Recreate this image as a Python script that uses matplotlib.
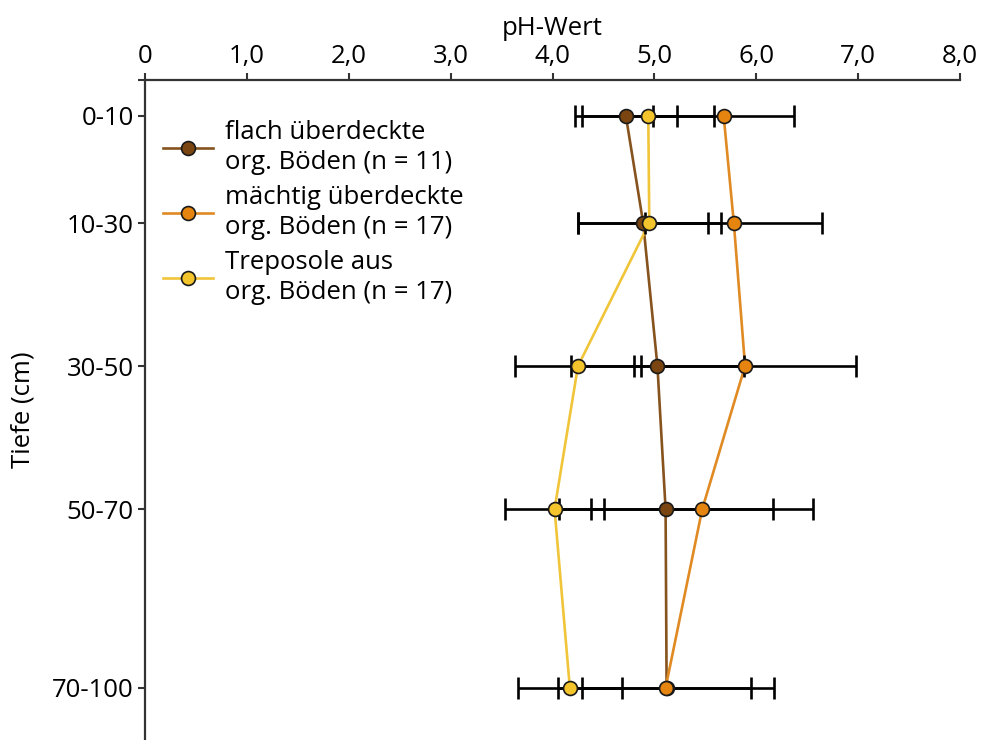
import matplotlib
matplotlib.use("Agg")
import matplotlib.pyplot as plt
from matplotlib.lines import Line2D

plt.rcParams['font.family'] = ['Open Sans', 'DejaVu Sans']

depth_labels = ["0-10", "10-30", "30-50", "50-70", "70-100"]
depth_mid = [5, 20, 40, 60, 85]

series_names = ["flach überdeckte\norg. Böden (n = 11)",
                "mächtig überdeckte\norg. Böden (n = 17)",
                "Treposole aus\norg. Böden (n = 17)"]
flach_mean = [4.72, 4.89, 5.03, 5.11, 5.12]
flach_err = [0.50, 0.64, 0.85, 1.05, 0.83]
maechtig_mean = [5.68, 5.78, 5.89, 5.47, 5.11]
maechtig_err = [0.69, 0.87, 1.09, 1.09, 1.06]
trepo_mean = [4.94, 4.95, 4.25, 4.02, 4.17]
trepo_err = [0.65, 0.70, 0.62, 0.49, 0.51]

x_ticks = [0, 1, 2, 3, 4, 5, 6, 7, 8]
x_ticklabels = ["0", "1,0", "2,0", "3,0", "4,0", "5,0", "6,0", "7,0", "8,0"]

colors_line = ["#86531E", "#E08A23", "#F0C53A"]
colors_marker = ["#7A4510", "#E5850F", "#F3C42C"]

FS = 18.5

fig = plt.figure(figsize=(9.84, 7.40), dpi=100)
ax = fig.add_axes([0.1474, 0.0, 0.8282, 0.8919])

means = [flach_mean, maechtig_mean, trepo_mean]
errs = [flach_err, maechtig_err, trepo_err]
zorders = [3, 4, 5]
for m, e, cl in zip(means, errs, colors_line):
    ax.plot(m, depth_mid, color=cl, lw=1.9, zorder=1)
    ax.errorbar(m, depth_mid, xerr=e, fmt='none', ecolor='black', elinewidth=1.9,
                capsize=8, capthick=1.9, zorder=2)
for m, cm, z in zip(means, colors_marker, zorders):
    ax.plot(m, depth_mid, ls='none', marker='o', ms=10, mfc=cm, mec='#1a1a1a',
            mew=1.2, zorder=z)

ax.set_xlim(0, 8)
ax.set_ylim(92.3, 0)
ax.xaxis.tick_top()
ax.xaxis.set_label_position('top')
ax.set_xticks(x_ticks)
ax.set_xticklabels(x_ticklabels)
ax.set_yticks([0] + depth_mid)
ax.set_yticklabels([""] + depth_labels)
ax.tick_params(axis='both', labelsize=FS, length=5, width=1.5, color='#333333',
               direction='out', pad=3)
for s in ['right', 'bottom']:
    ax.spines[s].set_visible(False)
for s in ['top', 'left']:
    ax.spines[s].set_linewidth(1.6)
    ax.spines[s].set_color('#333333')

ax.set_xlabel("pH-Wert", fontsize=FS)
ax.xaxis.set_label_coords(0.5, 1.068)
ax.set_ylabel("Tiefe (cm)", fontsize=FS)
ax.yaxis.set_label_coords(-0.135, 0.5)

handles = [Line2D([0], [0], color=cl, lw=1.9, marker='o', ms=10, mfc=cm,
                  mec='#1a1a1a', mew=1.2)
           for cl, cm in zip(colors_line, colors_marker)]
leg = ax.legend(handles, series_names, loc='upper left', bbox_to_anchor=(0.0, 0.967),
                frameon=False, fontsize=FS, handlelength=1.95, handletextpad=0.45,
                labelspacing=0.38, borderaxespad=0.3)
for t in leg.get_texts():
    t.set_linespacing(1.27)

fig.savefig("out.png", dpi=100)
